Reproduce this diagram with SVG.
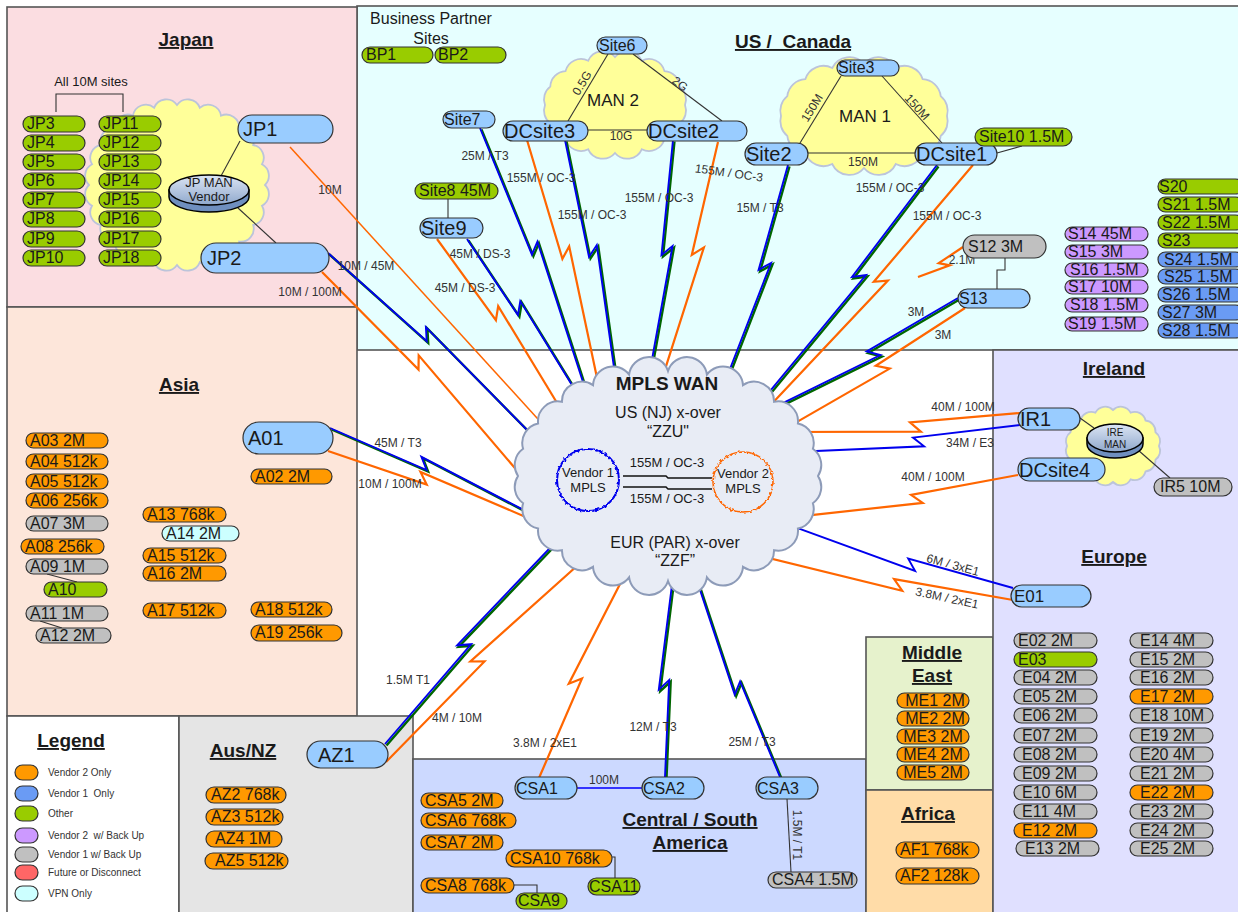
<svg xmlns="http://www.w3.org/2000/svg" width="1238" height="912" viewBox="0 0 1238 912">
<defs>
<style>
text{font-family:"Liberation Sans",Arial,sans-serif;fill:#1a1a1a}
.reg{stroke:#555;stroke-width:1.6}
.n{stroke:#333;stroke-width:1.2}
.lb{fill:#99CCFF}.gr{fill:#99CC00}.or{fill:#FF9900}.gy{fill:#C0C0C0}.pu{fill:#CC99FF}.bl{fill:#6A9BF4}.cy{fill:#CCFFFF}.rd{fill:#FF6666}
.s{font-size:16px}.L{font-size:20px}.m{text-anchor:middle}
.lab{font-size:12px;fill:#333;text-anchor:middle}
.ttl{font-size:19px;font-weight:bold;text-decoration:underline;text-anchor:middle}
.lo{fill:none;stroke:#FF6600;stroke-width:2.2;stroke-linejoin:miter}
.lo1{fill:none;stroke:#FF6600;stroke-width:1.5}
.lbl{fill:none;stroke:#0000EE;stroke-width:1.9;stroke-linejoin:miter}
.lg{fill:none;stroke:#006600;stroke-width:2.4;stroke-linejoin:miter}
.k{fill:none;stroke:#333;stroke-width:1.1}
.cl{fill:#FFFF99;stroke:#BCC4DA;stroke-width:1.8}
.leg{font-size:10px;fill:#333}
</style>
<filter id="wob" x="-20%" y="-20%" width="140%" height="140%">
<feTurbulence type="fractalNoise" baseFrequency="0.4" numOctaves="1" seed="4"/>
<feDisplacementMap in="SourceGraphic" scale="4" xChannelSelector="R" yChannelSelector="G"/>
</filter>
<linearGradient id="dg" x1="0" y1="0" x2="0" y2="1">
<stop offset="0" stop-color="#DCE5F4"/><stop offset="1" stop-color="#8FA8CC"/>
</linearGradient>
</defs>
<rect x="0" y="0" width="1238" height="912" fill="#FFFFFF"/>
<g id="regions">
<rect class="reg" x="357" y="6" width="885" height="344" fill="#E6FFFF"/>
<rect class="reg" x="7" y="7" width="350" height="300" fill="#FBDDE1"/>
<rect class="reg" x="7" y="307" width="350" height="409" fill="#FDE6DA"/>
<rect class="reg" x="7" y="716" width="172" height="200" fill="#FFFFFF"/>
<rect class="reg" x="179" y="716" width="234" height="200" fill="#E5E5E5"/>
<rect class="reg" x="413" y="759" width="453" height="160" fill="#CCD9FF"/>
<rect class="reg" x="866" y="637" width="127" height="153" fill="#E6F2CC"/>
<rect class="reg" x="866" y="790" width="127" height="130" fill="#FFDCA8"/>
<rect class="reg" x="993" y="350" width="250" height="570" fill="#E0E0FF"/>
<text class="ttl" x="186" y="46">Japan</text>
<text class="ttl" x="793" y="48" xml:space="preserve">US /  Canada</text>
<text class="ttl" x="179" y="391">Asia</text>
<text class="ttl" x="1114" y="375">Ireland</text>
<text class="ttl" x="1114" y="563">Europe</text>
<text class="ttl" x="71" y="747">Legend</text>
<text class="ttl" x="243" y="757">Aus/NZ</text>
<text class="ttl" x="690" y="826">Central / South</text>
<text class="ttl" x="690" y="849">America</text>
<text class="ttl" x="932" y="659">Middle</text>
<text class="ttl" x="932" y="682">East</text>
<text class="ttl" x="928" y="820">Africa</text>
<text x="431" y="24" font-size="16" text-anchor="middle" fill="#333">Business Partner</text>
<text x="431" y="44" font-size="16" text-anchor="middle" fill="#333">Sites</text>
<text x="91" y="86" font-size="13" text-anchor="middle" fill="#333">All 10M sites</text>
</g>
<g id="clouds">
<path class="cl" d="M265,185 A13,13 0 0 1 262,205.7 A13,13 0 0 1 253.2,225 A13,13 0 0 1 239.2,241.6 A13,13 0 0 1 221,254.3 A13,13 0 0 1 199.8,262.3 A13,13 0 0 1 177,265 A13,13 0 0 1 154.2,262.3 A13,13 0 0 1 133,254.3 A13,13 0 0 1 114.8,241.6 A13,13 0 0 1 100.8,225 A13,13 0 0 1 92,205.7 A13,13 0 0 1 89,185 A13,13 0 0 1 92,164.3 A13,13 0 0 1 100.8,145 A13,13 0 0 1 114.8,128.4 A13,13 0 0 1 133,115.7 A13,13 0 0 1 154.2,107.7 A13,13 0 0 1 177,105 A13,13 0 0 1 199.8,107.7 A13,13 0 0 1 221,115.7 A13,13 0 0 1 239.2,128.4 A13,13 0 0 1 253.2,145 A13,13 0 0 1 262,164.3 A13,13 0 0 1 265,185 Z"/>
<path class="cl" d="M685,105 A16,16 0 0 1 679.7,123.4 A16,16 0 0 1 664.5,138.9 A16,16 0 0 1 641.8,149.3 A16,16 0 0 1 615,153 A16,16 0 0 1 588.2,149.3 A16,16 0 0 1 565.5,138.9 A16,16 0 0 1 550.3,123.4 A16,16 0 0 1 545,105 A16,16 0 0 1 550.3,86.6 A16,16 0 0 1 565.5,71.1 A16,16 0 0 1 588.2,60.7 A16,16 0 0 1 615,57 A16,16 0 0 1 641.8,60.7 A16,16 0 0 1 664.5,71.1 A16,16 0 0 1 679.7,86.6 A16,16 0 0 1 685,105 Z"/>
<path class="cl" d="M947,116 A19,19 0 0 1 940.7,135.9 A19,19 0 0 1 922.7,152.8 A19,19 0 0 1 895.8,164 A19,19 0 0 1 864,168 A19,19 0 0 1 832.2,164 A19,19 0 0 1 805.3,152.8 A19,19 0 0 1 787.3,135.9 A19,19 0 0 1 781,116 A19,19 0 0 1 787.3,96.1 A19,19 0 0 1 805.3,79.2 A19,19 0 0 1 832.2,68 A19,19 0 0 1 864,64 A19,19 0 0 1 895.8,68 A19,19 0 0 1 922.7,79.2 A19,19 0 0 1 940.7,96.1 A19,19 0 0 1 947,116 Z"/>
<path class="cl" d="M1159,446 A11,11 0 0 1 1155.5,459.8 A11,11 0 0 1 1145.5,471.5 A11,11 0 0 1 1130.6,479.3 A11,11 0 0 1 1113,482 A11,11 0 0 1 1095.4,479.3 A11,11 0 0 1 1080.5,471.5 A11,11 0 0 1 1070.5,459.8 A11,11 0 0 1 1067,446 A11,11 0 0 1 1070.5,432.2 A11,11 0 0 1 1080.5,420.5 A11,11 0 0 1 1095.4,412.7 A11,11 0 0 1 1113,410 A11,11 0 0 1 1130.6,412.7 A11,11 0 0 1 1145.5,420.5 A11,11 0 0 1 1155.5,432.2 A11,11 0 0 1 1159,446 Z"/>
<text x="613" y="106" font-size="17" text-anchor="middle" fill="#222">MAN 2</text>
<text x="865" y="122" font-size="17" text-anchor="middle" fill="#222">MAN 1</text>
</g>
<g id="connectors">
<polyline class="k" points="56,112 56,94 123,94 123,112"/>
<line class="k" x1="240" y1="141" x2="221" y2="176"/>
<line class="k" x1="238" y1="208" x2="276" y2="243"/>
<line class="k" x1="608" y1="54" x2="568" y2="121"/>
<line class="k" x1="633" y1="54" x2="722" y2="121"/>
<line class="k" x1="588" y1="130" x2="647" y2="130"/>
<line class="k" x1="841" y1="76" x2="800" y2="143"/>
<line class="k" x1="882" y1="76" x2="942" y2="143"/>
<line class="k" x1="808" y1="153" x2="915" y2="153"/>
<line class="k" x1="997" y1="153" x2="1022" y2="146"/>
<line class="k" x1="448" y1="199" x2="448" y2="218"/>
<polyline class="k" points="1005,258 1005,270 997,270 997,289"/>
<line class="k" x1="1080" y1="418" x2="1094" y2="428"/>
<line class="k" x1="1138" y1="450" x2="1170" y2="478"/>
<line class="k" x1="47" y1="574" x2="77" y2="582"/>
<line class="k" x1="40" y1="621" x2="62" y2="628"/>
<line x1="577" y1="788" x2="642" y2="788" stroke="#3333FF" stroke-width="2"/>
<line class="k" x1="787" y1="799" x2="791" y2="872"/>
<polyline class="k" points="612,857 615,857 615,878"/>
<polyline class="k" points="514,885 537,885 537,893"/>
<polyline class="lo1" points="290,147 553.8,436.5"/>
<polyline class="lo" points="322,272 418.5,369.6 418.7,355.4 527.5,482.9"/>
<polyline class="lg" transform="translate(1.5,1.5)" points="328,253 426.7,341.3 425.9,327.2 538.6,441.7"/>
<polyline class="lbl" points="328,253 426.7,341.3 425.9,327.2 538.6,441.7"/>
<polyline class="lo" points="437,239 495.9,320.1 498.2,306.1 562.7,412.3"/>
<polyline class="lg" transform="translate(1.5,1.5)" points="467,239 517.9,315.1 520.3,301.1 581.5,400.4"/>
<polyline class="lbl" points="467,239 517.9,315.1 520.3,301.1 581.5,400.4"/>
<polyline class="lg" transform="translate(1.5,1.5)" points="480,128 531.9,254.6 537.4,241.6 587.3,395.2"/>
<polyline class="lbl" points="480,128 531.9,254.6 537.4,241.6 587.3,395.2"/>
<polyline class="lo" points="527,140 562.4,258.8 569.2,246.4 600,392"/>
<polyline class="lg" transform="translate(1.5,1.5)" points="565,140 589,256.9 596.8,245.1 617.1,389.5"/>
<polyline class="lbl" points="565,140 589,256.9 596.8,245.1 617.1,389.5"/>
<polyline class="lg" transform="translate(1.5,1.5)" points="673,140 661.5,255 672.5,246.1 647.4,384.9"/>
<polyline class="lbl" points="673,140 661.5,255 672.5,246.1 647.4,384.9"/>
<polyline class="lo" points="718,142 691.8,254.9 703.9,247.4 661.2,381.3"/>
<polyline class="lg" transform="translate(1.5,1.5)" points="788,165 758.6,269.8 771,263 723,387"/>
<polyline class="lbl" points="788,165 758.6,269.8 771,263 723,387"/>
<polyline class="lg" transform="translate(1.5,1.5)" points="937,165 852,277 866,275 760.1,403.1"/>
<polyline class="lbl" points="937,165 852,277 866,275 760.1,403.1"/>
<polyline class="lo" points="973,165 873.8,281.8 887.9,280.6 766.9,409.1"/>
<polyline class="lg" transform="translate(1.5,1.5)" points="958,298 866.7,351.5 880.4,355.1 763.5,412.7"/>
<polyline class="lbl" points="958,298 866.7,351.5 880.4,355.1 763.5,412.7"/>
<polyline class="lo" points="965,308 875.8,365.8 889.7,368.6 776.2,433.9"/>
<polyline class="lo" points="963,247 938.7,263.2 949.8,265.4 918,277"/>
<polyline class="lo" points="1020,413 910,422.4 920.8,431.6 785.1,432"/>
<polyline class="lbl" stroke-width="2.4" points="1020,425 913,437.6 924.1,446.3 793.2,452"/>
<polyline class="lo" points="1018,475 911.1,494.9 922.7,502.9 788.4,517.6"/>
<polyline class="lbl" stroke-width="2.4" points="1013,588 908.2,558.6 915.1,571 784,523.2"/>
<polyline class="lo" points="1013,600 894.1,579.1 902.2,590.7 747.6,552.8"/>
<polyline class="lg" transform="translate(1.5,1.5)" points="330,428 426.6,470 421.4,456.8 544.8,520.9"/>
<polyline class="lbl" points="330,428 426.6,470 421.4,456.8 544.8,520.9"/>
<polyline class="lo" points="328,451 426.7,484.6 420.5,471.9 550,527.4"/>
<polyline class="lg" transform="translate(1.5,1.5)" points="385,744 471.2,644.2 457.1,645.3 566.2,531"/>
<polyline class="lbl" points="385,744 471.2,644.2 457.1,645.3 566.2,531"/>
<polyline class="lo" points="386,762 484.5,661.4 470.4,661.5 595.6,549.2"/>
<polyline class="lo" points="539,778 582,678.4 568.8,683.7 629.8,565"/>
<polyline class="lg" transform="translate(1.5,1.5)" points="665,777 669.2,680 658.8,689.6 674.1,568"/>
<polyline class="lbl" points="665,777 669.2,680 658.8,689.6 674.1,568"/>
<polyline class="lg" transform="translate(1.5,1.5)" points="780,777 740.1,681.4 734.7,694.5 693.4,570"/>
<polyline class="lbl" points="780,777 740.1,681.4 734.7,694.5 693.4,570"/>
</g>
<g id="labels">
<text class="lab" x="330" y="194">10M</text>
<text class="lab" x="366" y="270">10M / 45M</text>
<text class="lab" x="310" y="296">10M / 100M</text>
<text class="lab" x="485" y="160">25M / T3</text>
<text class="lab" x="541" y="182">155M / OC-3</text>
<text class="lab" x="592" y="219">155M / OC-3</text>
<text class="lab" x="659" y="202">155M / OC-3</text>
<text class="lab" x="729" y="177" transform="rotate(8 729 173)">155M / OC-3</text>
<text class="lab" x="760" y="212">15M / T3</text>
<text class="lab" x="480" y="258">45M / DS-3</text>
<text class="lab" x="465" y="292">45M / DS-3</text>
<text class="lab" x="890" y="192">155M / OC-3</text>
<text class="lab" x="947" y="220">155M / OC-3</text>
<text class="lab" x="962" y="264">2.1M</text>
<text class="lab" x="916" y="316">3M</text>
<text class="lab" x="943" y="339">3M</text>
<text class="lab" x="963" y="411">40M / 100M</text>
<text class="lab" x="970" y="447">34M / E3</text>
<text class="lab" x="933" y="481">40M / 100M</text>
<text class="lab" x="953" y="569" transform="rotate(15 953 565)">6M / 3xE1</text>
<text class="lab" x="947" y="602" transform="rotate(12 947 598)">3.8M / 2xE1</text>
<text class="lab" x="398" y="447">45M / T3</text>
<text class="lab" x="390" y="488">10M / 100M</text>
<text class="lab" x="408" y="684">1.5M T1</text>
<text class="lab" x="457" y="722">4M / 10M</text>
<text class="lab" x="545" y="747">3.8M / 2xE1</text>
<text class="lab" x="653" y="731">12M / T3</text>
<text class="lab" x="752" y="746">25M / T3</text>
<text class="lab" x="604" y="784">100M</text>
<text class="lab" x="797" y="839" transform="rotate(90 797 835)">1.5M / T1</text>
<text class="lab" x="582" y="87" transform="rotate(-59 582 83)">0.5G</text>
<text class="lab" x="680" y="88" transform="rotate(37 680 84)">2G</text>
<text class="lab" x="621" y="140">10G</text>
<text class="lab" x="812" y="112" transform="rotate(-58 812 108)">150M</text>
<text class="lab" x="917" y="111" transform="rotate(48 917 107)">150M</text>
<text class="lab" x="863" y="166">150M</text>
</g>
<g id="mpls">
<path d="M818,476 A20,20 0 0 1 812.9,503.2 A20,20 0 0 1 797.9,528.5 A20,20 0 0 1 774.1,550.2 A20,20 0 0 1 743,566.9 A20,20 0 0 1 706.9,577.4 A20,20 0 0 1 668,581 A20,20 0 0 1 629.1,577.4 A20,20 0 0 1 593,566.9 A20,20 0 0 1 561.9,550.2 A20,20 0 0 1 538.1,528.5 A20,20 0 0 1 523.1,503.2 A20,20 0 0 1 518,476 A20,20 0 0 1 523.1,448.8 A20,20 0 0 1 538.1,423.5 A20,20 0 0 1 561.9,401.8 A20,20 0 0 1 593,385.1 A20,20 0 0 1 629.1,374.6 A20,20 0 0 1 668,371 A20,20 0 0 1 706.9,374.6 A20,20 0 0 1 743,385.1 A20,20 0 0 1 774.1,401.8 A20,20 0 0 1 797.9,423.5 A20,20 0 0 1 812.9,448.8 A20,20 0 0 1 818,476 Z" fill="#E8ECF5" stroke="#8D9BB8" stroke-width="2"/>
<text x="667" y="390" font-size="19" font-weight="bold" text-anchor="middle" fill="#111">MPLS WAN</text>
<text x="668" y="418" font-size="16" text-anchor="middle" fill="#333">US (NJ) x-over</text>
<text x="668" y="437" font-size="16" text-anchor="middle" fill="#333">“ZZU"</text>
<text x="675" y="548" font-size="16" text-anchor="middle" fill="#333">EUR (PAR) x-over</text>
<text x="675" y="566" font-size="16" text-anchor="middle" fill="#333">“ZZF”</text>
<polyline points="623,476 666,476 668,478 712,478" fill="none" stroke="#111" stroke-width="1.5"/>
<polyline points="623,487 666,487 668,489 712,489" fill="none" stroke="#111" stroke-width="1.5"/>
<text x="667" y="467" font-size="13" text-anchor="middle" fill="#333">155M / OC-3</text>
<text x="667" y="503" font-size="13" text-anchor="middle" fill="#333">155M / OC-3</text>
<g id="vendor1">
<circle cx="588" cy="480" r="31" fill="#E8ECF5" stroke="#0000EE" stroke-width="2" filter="url(#wob)"/>
<text x="588" y="477" font-size="13" text-anchor="middle" fill="#333">Vendor 1</text>
<text x="588" y="492" font-size="13" text-anchor="middle" fill="#333">MPLS</text>
</g>
<g id="vendor2">
<circle cx="743" cy="482" r="30" fill="#E8ECF5" stroke="#FF6600" stroke-width="1.6" filter="url(#wob)"/>
<text x="743" y="478" font-size="13" text-anchor="middle" fill="#333">Vendor 2</text>
<text x="743" y="493" font-size="13" text-anchor="middle" fill="#333">MPLS</text>
</g>
</g>
<g id="nodes">
<g id="JPMAN"><path d="M169,190 L169,197 A40,15 0 0 0 249,197 L249,190 Z" fill="#6F8FBF" stroke="#000" stroke-width="1.5"/><ellipse cx="209" cy="190" rx="40" ry="15" fill="url(#dg)" stroke="#000" stroke-width="1.5"/><text x="209" y="187" font-size="13" text-anchor="middle" fill="#333">JP MAN</text><text x="209" y="201" font-size="13" text-anchor="middle" fill="#333">Vendor</text></g>
<g id="IREMAN"><path d="M1087,438 L1087,444 A28,14 0 0 0 1143,444 L1143,438 Z" fill="#6F8FBF" stroke="#000" stroke-width="1.5"/><ellipse cx="1115" cy="438" rx="28" ry="14" fill="url(#dg)" stroke="#000" stroke-width="1.5"/><text x="1115" y="436" font-size="10" text-anchor="middle" fill="#333">IRE</text><text x="1115" y="448" font-size="10" text-anchor="middle" fill="#333">MAN</text></g>
<g id="JP3"><rect class="n gr" x="23" y="116" width="62" height="16" rx="8"/><text class="s" x="27" y="129">JP3</text></g>
<g id="JP4"><rect class="n gr" x="23" y="135" width="62" height="16" rx="8"/><text class="s" x="27" y="148">JP4</text></g>
<g id="JP5"><rect class="n gr" x="23" y="154" width="62" height="16" rx="8"/><text class="s" x="27" y="167">JP5</text></g>
<g id="JP6"><rect class="n gr" x="23" y="173" width="62" height="16" rx="8"/><text class="s" x="27" y="186">JP6</text></g>
<g id="JP7"><rect class="n gr" x="23" y="192" width="62" height="16" rx="8"/><text class="s" x="27" y="205">JP7</text></g>
<g id="JP8"><rect class="n gr" x="23" y="211" width="62" height="16" rx="8"/><text class="s" x="27" y="224">JP8</text></g>
<g id="JP9"><rect class="n gr" x="23" y="231" width="62" height="16" rx="8"/><text class="s" x="27" y="244">JP9</text></g>
<g id="JP10"><rect class="n gr" x="23" y="250" width="62" height="16" rx="8"/><text class="s" x="27" y="263">JP10</text></g>
<g id="JP11"><rect class="n gr" x="99" y="116" width="62" height="16" rx="8"/><text class="s" x="103" y="129">JP11</text></g>
<g id="JP12"><rect class="n gr" x="99" y="135" width="62" height="16" rx="8"/><text class="s" x="103" y="148">JP12</text></g>
<g id="JP13"><rect class="n gr" x="99" y="154" width="62" height="16" rx="8"/><text class="s" x="103" y="167">JP13</text></g>
<g id="JP14"><rect class="n gr" x="99" y="173" width="62" height="16" rx="8"/><text class="s" x="103" y="186">JP14</text></g>
<g id="JP15"><rect class="n gr" x="99" y="192" width="62" height="16" rx="8"/><text class="s" x="103" y="205">JP15</text></g>
<g id="JP16"><rect class="n gr" x="99" y="211" width="62" height="16" rx="8"/><text class="s" x="103" y="224">JP16</text></g>
<g id="JP17"><rect class="n gr" x="99" y="231" width="62" height="16" rx="8"/><text class="s" x="103" y="244">JP17</text></g>
<g id="JP18"><rect class="n gr" x="99" y="250" width="62" height="16" rx="8"/><text class="s" x="103" y="263">JP18</text></g>
<g id="JP1"><rect class="n lb" x="238" y="115" width="95" height="28" rx="14"/><text class="L" x="243" y="136">JP1</text></g>
<g id="JP2"><rect class="n lb" x="201" y="243" width="128" height="30" rx="15"/><text class="L" x="207" y="265">JP2</text></g>
<g id="BP1"><rect class="n gr" x="362" y="47" width="71" height="16" rx="8"/><text class="s" x="366" y="60">BP1</text></g>
<g id="BP2"><rect class="n gr" x="435" y="47" width="71" height="16" rx="8"/><text class="s" x="438" y="60">BP2</text></g>
<g id="Site6"><rect class="n lb" x="597" y="37" width="50" height="17" rx="8.5"/><text class="s" x="599" y="51">Site6</text></g>
<g id="Site7"><rect class="n lb" x="443" y="111" width="52" height="17" rx="8.5"/><text class="s" x="444" y="125">Site7</text></g>
<g id="DCsite3"><rect class="n lb" x="503" y="121" width="85" height="20" rx="10"/><text class="L" x="504" y="138">DCsite3</text></g>
<g id="DCsite2"><rect class="n lb" x="647" y="121" width="100" height="20" rx="10"/><text class="L" x="648" y="138">DCsite2</text></g>
<g id="Site2"><rect class="n lb" x="745" y="143" width="63" height="22" rx="11"/><text class="L" x="746" y="161">Site2</text></g>
<g id="Site3"><rect class="n lb" x="837" y="60" width="62" height="16" rx="8"/><text class="s" x="838" y="73">Site3</text></g>
<g id="DCsite1"><rect class="n lb" x="915" y="143" width="82" height="22" rx="11"/><text class="L" x="916" y="161">DCsite1</text></g>
<g id="Site10"><rect class="n gr" x="975" y="128" width="97" height="18" rx="9"/><text class="s" x="979" y="142">Site10 1.5M</text></g>
<g id="Site8"><rect class="n gr" x="415" y="183" width="83" height="16" rx="8"/><text class="s" x="419" y="196">Site8 45M</text></g>
<g id="Site9"><rect class="n lb" x="420" y="218" width="63" height="20" rx="10"/><text class="L" x="421" y="235">Site9</text></g>
<g id="S12"><rect class="n gy" x="963" y="235" width="83" height="23" rx="11.5"/><text class="s" x="968" y="252">S12 3M</text></g>
<g id="S13"><rect class="n lb" x="958" y="289" width="72" height="19" rx="9.5"/><text class="s" x="959" y="304">S13</text></g>
<g id="S14"><rect class="n pu" x="1065" y="227" width="83" height="14" rx="7"/><text class="s" x="1068" y="239">S14 45M</text></g>
<g id="S15"><rect class="n pu" x="1065" y="245" width="83" height="14" rx="7"/><text class="s" x="1068" y="257">S15 3M</text></g>
<g id="S16"><rect class="n pu" x="1065" y="263" width="83" height="14" rx="7"/><text class="s" x="1070" y="275">S16 1.5M</text></g>
<g id="S17"><rect class="n pu" x="1065" y="280" width="83" height="14" rx="7"/><text class="s" x="1068" y="292">S17 10M</text></g>
<g id="S18"><rect class="n pu" x="1065" y="298" width="83" height="14" rx="7"/><text class="s" x="1070" y="310">S18 1.5M</text></g>
<g id="S19"><rect class="n pu" x="1065" y="317" width="83" height="14" rx="7"/><text class="s" x="1068" y="329">S19 1.5M</text></g>
<g id="S20"><rect class="n gr" x="1158" y="179" width="85" height="15" rx="7.5"/><text class="s" x="1159" y="192">S20</text></g>
<g id="S21"><rect class="n gr" x="1158" y="197" width="85" height="15" rx="7.5"/><text class="s" x="1162" y="210">S21 1.5M</text></g>
<g id="S22"><rect class="n gr" x="1158" y="215" width="85" height="15" rx="7.5"/><text class="s" x="1162" y="228">S22 1.5M</text></g>
<g id="S23"><rect class="n gr" x="1158" y="233" width="85" height="15" rx="7.5"/><text class="s" x="1162" y="246">S23</text></g>
<g id="S24"><rect class="n bl" x="1158" y="252" width="85" height="15" rx="7.5"/><text class="s" x="1164" y="265">S24 1.5M</text></g>
<g id="S25"><rect class="n bl" x="1158" y="269" width="85" height="15" rx="7.5"/><text class="s" x="1164" y="282">S25 1.5M</text></g>
<g id="S26"><rect class="n bl" x="1158" y="287" width="85" height="15" rx="7.5"/><text class="s" x="1162" y="300">S26 1.5M</text></g>
<g id="S27"><rect class="n bl" x="1158" y="305" width="85" height="15" rx="7.5"/><text class="s" x="1162" y="318">S27 3M</text></g>
<g id="S28"><rect class="n bl" x="1158" y="323" width="85" height="15" rx="7.5"/><text class="s" x="1162" y="336">S28 1.5M</text></g>
<g id="A01"><rect class="n lb" x="243" y="422" width="90" height="32" rx="16"/><text class="L" x="248" y="445">A01</text></g>
<g id="A02"><rect class="n or" x="251" y="469" width="81" height="15" rx="7.5"/><text class="s" x="255" y="482">A02 2M</text></g>
<g id="A03"><rect class="n or" x="26" y="433" width="82" height="15" rx="7.5"/><text class="s" x="30" y="446">A03 2M</text></g>
<g id="A04"><rect class="n or" x="26" y="454" width="82" height="15" rx="7.5"/><text class="s" x="30" y="467">A04 512k</text></g>
<g id="A05"><rect class="n or" x="26" y="474" width="82" height="15" rx="7.5"/><text class="s" x="30" y="487">A05 512k</text></g>
<g id="A06"><rect class="n or" x="26" y="493" width="82" height="15" rx="7.5"/><text class="s" x="30" y="506">A06 256k</text></g>
<g id="A07"><rect class="n gy" x="26" y="516" width="82" height="15" rx="7.5"/><text class="s" x="30" y="529">A07 3M</text></g>
<g id="A08"><rect class="n or" x="21" y="539" width="83" height="15" rx="7.5"/><text class="s" x="25" y="552">A08 256k</text></g>
<g id="A09"><rect class="n gy" x="26" y="559" width="82" height="15" rx="7.5"/><text class="s" x="30" y="572">A09 1M</text></g>
<g id="A10"><rect class="n gr" x="44" y="582" width="63" height="15" rx="7.5"/><text class="s" x="48" y="595">A10</text></g>
<g id="A11"><rect class="n gy" x="26" y="606" width="82" height="15" rx="7.5"/><text class="s" x="30" y="619">A11 1M</text></g>
<g id="A12"><rect class="n gy" x="36" y="628" width="75" height="15" rx="7.5"/><text class="s" x="40" y="641">A12 2M</text></g>
<g id="A13"><rect class="n or" x="143" y="507" width="83" height="15" rx="7.5"/><text class="s" x="147" y="520">A13 768k</text></g>
<g id="A14"><rect class="n cy" x="162" y="526" width="77" height="15" rx="7.5"/><text class="s" x="166" y="539">A14 2M</text></g>
<g id="A15"><rect class="n or" x="143" y="548" width="83" height="15" rx="7.5"/><text class="s" x="147" y="561">A15 512k</text></g>
<g id="A16"><rect class="n or" x="143" y="566" width="83" height="15" rx="7.5"/><text class="s" x="147" y="579">A16 2M</text></g>
<g id="A17"><rect class="n or" x="143" y="603" width="83" height="15" rx="7.5"/><text class="s" x="147" y="616">A17 512k</text></g>
<g id="A18"><rect class="n or" x="251" y="602" width="81" height="15" rx="7.5"/><text class="s" x="255" y="615">A18 512k</text></g>
<g id="A19"><rect class="n or" x="251" y="625" width="91" height="16" rx="8"/><text class="s" x="255" y="638">A19 256k</text></g>
<g id="AZ1"><rect class="n lb" x="307" y="741" width="81" height="27" rx="13.5"/><text class="L" x="318" y="762">AZ1</text></g>
<g id="AZ2"><rect class="n or" x="206" y="787" width="80" height="16" rx="8"/><text class="s" x="211" y="800">AZ2 768k</text></g>
<g id="AZ3"><rect class="n or" x="206" y="809" width="77" height="16" rx="8"/><text class="s" x="211" y="822">AZ3 512k</text></g>
<g id="AZ4"><rect class="n or" x="206" y="831" width="76" height="16" rx="8"/><text class="s" x="215" y="844">AZ4 1M</text></g>
<g id="AZ5"><rect class="n or" x="205" y="853" width="83" height="16" rx="8"/><text class="s" x="215" y="866">AZ5 512k</text></g>
<g id="CSA1"><rect class="n lb" x="515" y="777" width="62" height="22" rx="11"/><text class="s" x="516" y="794">CSA1</text></g>
<g id="CSA2"><rect class="n lb" x="642" y="777" width="62" height="22" rx="11"/><text class="s" x="643" y="794">CSA2</text></g>
<g id="CSA3"><rect class="n lb" x="756" y="777" width="62" height="22" rx="11"/><text class="s" x="757" y="794">CSA3</text></g>
<g id="CSA4"><rect class="n gy" x="768" y="872" width="89" height="16" rx="8"/><text class="s" x="772" y="885">CSA4 1.5M</text></g>
<g id="CSA5"><rect class="n or" x="421" y="793" width="82" height="15" rx="7.5"/><text class="s" x="425" y="806">CSA5 2M</text></g>
<g id="CSA6"><rect class="n or" x="421" y="813" width="95" height="15" rx="7.5"/><text class="s" x="425" y="826">CSA6 768k</text></g>
<g id="CSA7"><rect class="n or" x="421" y="835" width="82" height="15" rx="7.5"/><text class="s" x="425" y="848">CSA7 2M</text></g>
<g id="CSA10"><rect class="n or" x="506" y="850" width="106" height="17" rx="8.5"/><text class="s" x="510" y="864">CSA10 768k</text></g>
<g id="CSA11"><rect class="n gr" x="588" y="878" width="52" height="17" rx="8.5"/><text class="s" x="589" y="892">CSA11</text></g>
<g id="CSA8"><rect class="n or" x="421" y="878" width="93" height="15" rx="7.5"/><text class="s" x="425" y="891">CSA8 768k</text></g>
<g id="CSA9"><rect class="n gr" x="516" y="893" width="51" height="16" rx="8"/><text class="s" x="518" y="906">CSA9</text></g>
<g id="ME1"><rect class="n or" x="897" y="693" width="72" height="15" rx="7.5"/><text class="s m" x="935" y="706">ME1 2M</text></g>
<g id="ME2"><rect class="n or" x="897" y="711" width="72" height="15" rx="7.5"/><text class="s m" x="935" y="724">ME2 2M</text></g>
<g id="ME3"><rect class="n or" x="897" y="729" width="72" height="15" rx="7.5"/><text class="s m" x="933" y="742">ME3 2M</text></g>
<g id="ME4"><rect class="n or" x="897" y="747" width="72" height="15" rx="7.5"/><text class="s m" x="933" y="760">ME4 2M</text></g>
<g id="ME5"><rect class="n or" x="897" y="765" width="72" height="15" rx="7.5"/><text class="s m" x="933" y="778">ME5 2M</text></g>
<g id="AF1"><rect class="n or" x="896" y="842" width="83" height="16" rx="8"/><text class="s" x="900" y="855">AF1 768k</text></g>
<g id="AF2"><rect class="n or" x="896" y="868" width="83" height="16" rx="8"/><text class="s" x="900" y="881">AF2 128k</text></g>
<g id="IR1"><rect class="n lb" x="1018" y="408" width="62" height="22" rx="11"/><text class="L" x="1020" y="426">IR1</text></g>
<g id="DCsite4"><rect class="n lb" x="1018" y="458" width="87" height="23" rx="11.5"/><text class="L" x="1019" y="477">DCsite4</text></g>
<g id="IR5"><rect class="n gy" x="1154" y="478" width="78" height="18" rx="9"/><text class="s" x="1160" y="492">IR5 10M</text></g>
<g id="E01"><rect class="n lb" x="1011" y="585" width="80" height="22" rx="11"/><text x="1014" y="602" font-size="17">E01</text></g>
<g id="E02"><rect class="n gy" x="1014" y="633" width="83" height="15" rx="7.5"/><text class="s" x="1018" y="646">E02 2M</text></g>
<g id="E03"><rect class="n gr" x="1014" y="652" width="83" height="15" rx="7.5"/><text class="s" x="1018" y="665">E03</text></g>
<g id="E04"><rect class="n gy" x="1014" y="670" width="83" height="15" rx="7.5"/><text class="s" x="1022" y="683">E04 2M</text></g>
<g id="E05"><rect class="n gy" x="1014" y="689" width="83" height="15" rx="7.5"/><text class="s" x="1022" y="702">E05 2M</text></g>
<g id="E06"><rect class="n gy" x="1014" y="708" width="83" height="15" rx="7.5"/><text class="s" x="1022" y="721">E06 2M</text></g>
<g id="E07"><rect class="n gy" x="1014" y="728" width="83" height="15" rx="7.5"/><text class="s" x="1022" y="741">E07 2M</text></g>
<g id="E08"><rect class="n gy" x="1014" y="747" width="83" height="15" rx="7.5"/><text class="s" x="1022" y="760">E08 2M</text></g>
<g id="E09"><rect class="n gy" x="1014" y="766" width="83" height="15" rx="7.5"/><text class="s" x="1022" y="779">E09 2M</text></g>
<g id="E10"><rect class="n gy" x="1014" y="785" width="83" height="15" rx="7.5"/><text class="s" x="1022" y="798">E10 6M</text></g>
<g id="E11"><rect class="n gy" x="1014" y="804" width="83" height="15" rx="7.5"/><text class="s" x="1022" y="817">E11 4M</text></g>
<g id="E12"><rect class="n or" x="1014" y="823" width="83" height="15" rx="7.5"/><text class="s" x="1022" y="836">E12 2M</text></g>
<g id="E13"><rect class="n gy" x="1016" y="841" width="83" height="15" rx="7.5"/><text class="s" x="1025" y="854">E13 2M</text></g>
<g id="E14"><rect class="n gy" x="1130" y="633" width="83" height="15" rx="7.5"/><text class="s" x="1140" y="646">E14 4M</text></g>
<g id="E15"><rect class="n gy" x="1130" y="652" width="83" height="15" rx="7.5"/><text class="s" x="1140" y="665">E15 2M</text></g>
<g id="E16"><rect class="n gy" x="1130" y="670" width="83" height="15" rx="7.5"/><text class="s" x="1140" y="683">E16 2M</text></g>
<g id="E17"><rect class="n or" x="1130" y="689" width="83" height="15" rx="7.5"/><text class="s" x="1140" y="702">E17 2M</text></g>
<g id="E18"><rect class="n gy" x="1130" y="708" width="83" height="15" rx="7.5"/><text class="s" x="1140" y="721">E18 10M</text></g>
<g id="E19"><rect class="n gy" x="1130" y="728" width="83" height="15" rx="7.5"/><text class="s" x="1140" y="741">E19 2M</text></g>
<g id="E20"><rect class="n gy" x="1130" y="747" width="83" height="15" rx="7.5"/><text class="s" x="1140" y="760">E20 4M</text></g>
<g id="E21"><rect class="n gy" x="1130" y="766" width="83" height="15" rx="7.5"/><text class="s" x="1140" y="779">E21 2M</text></g>
<g id="E22"><rect class="n or" x="1130" y="785" width="83" height="15" rx="7.5"/><text class="s" x="1140" y="798">E22 2M</text></g>
<g id="E23"><rect class="n gy" x="1130" y="804" width="83" height="15" rx="7.5"/><text class="s" x="1140" y="817">E23 2M</text></g>
<g id="E24"><rect class="n gy" x="1130" y="823" width="83" height="15" rx="7.5"/><text class="s" x="1140" y="836">E24 2M</text></g>
<g id="E25"><rect class="n gy" x="1130" y="841" width="83" height="15" rx="7.5"/><text class="s" x="1140" y="854">E25 2M</text></g>
</g>
<g id="legend">
<rect class="n or" x="15" y="765" width="23" height="15" rx="7.5"/><text class="leg" x="48" y="776">Vendor 2 Only</text>
<rect class="n bl" x="15" y="786" width="23" height="15" rx="7.5"/><text class="leg" x="48" y="797" xml:space="preserve">Vendor 1  Only</text>
<rect class="n gr" x="15" y="806" width="23" height="15" rx="7.5"/><text class="leg" x="48" y="817">Other</text>
<rect class="n pu" x="15" y="828" width="23" height="15" rx="7.5"/><text class="leg" x="48" y="839" xml:space="preserve">Vendor 2  w/ Back Up</text>
<rect class="n gy" x="15" y="847" width="23" height="15" rx="7.5"/><text class="leg" x="48" y="858">Vendor 1 w/ Back Up</text>
<rect class="n rd" x="15" y="865" width="23" height="15" rx="7.5"/><text class="leg" x="48" y="876">Future or Disconnect</text>
<rect class="n cy" x="15" y="886" width="23" height="15" rx="7.5"/><text class="leg" x="48" y="897">VPN Only</text>
</g>
</svg>
